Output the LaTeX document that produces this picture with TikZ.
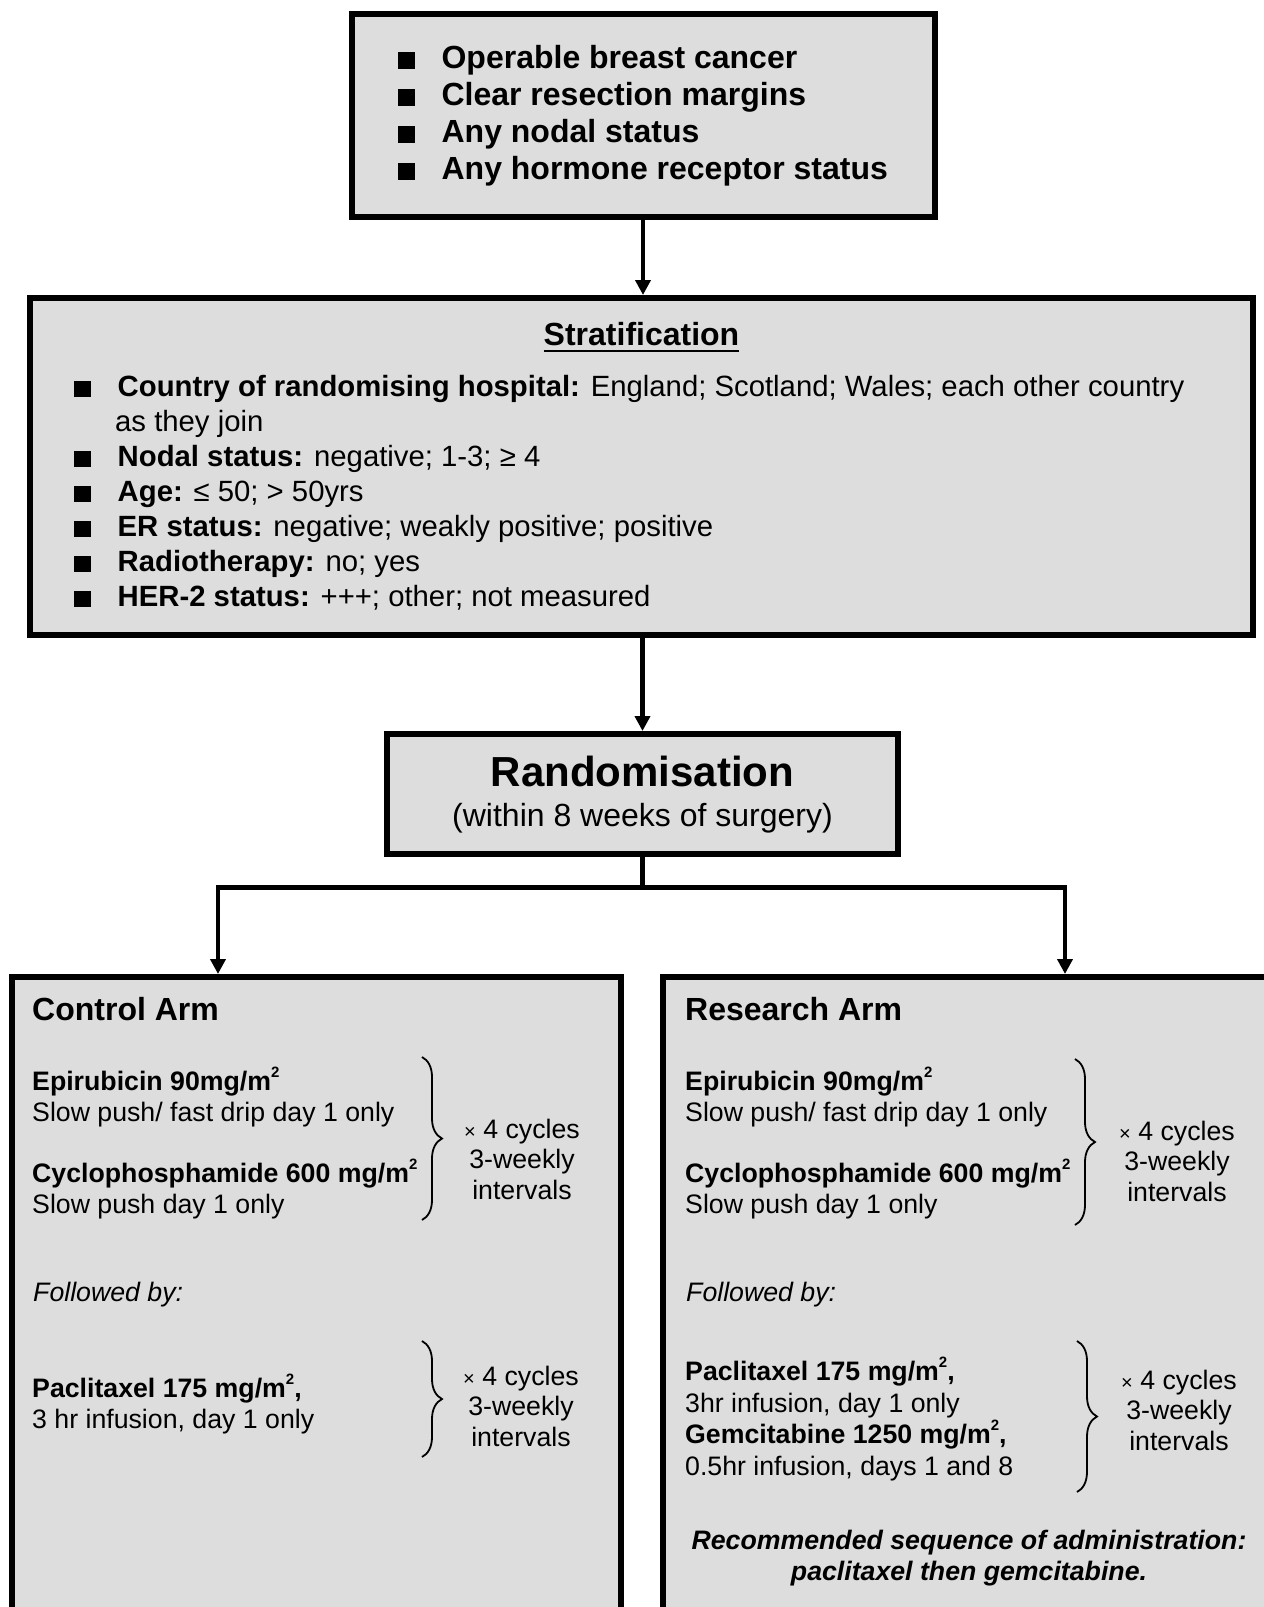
\documentclass[tikz,border=0pt]{standalone}
\usepackage{fontspec}
\setmainfont{Liberation Sans}
\usepackage{tikz}
\usetikzlibrary{arrows.meta,decorations.pathreplacing}
\definecolor{boxgray}{RGB}{221,221,221}
\newcommand{\sqb}{\rule[-0.5pt]{16.5pt}{16.5pt}\hspace{27pt}}
\newcommand{\msq}{\raisebox{0.48em}{\fontsize{15}{15}\selectfont 2}}
\newcommand{\tms}{{\fontsize{20}{20}\selectfont ×}}

\begin{document}
\begin{tikzpicture}[x=1pt, y=-1pt,
main box/.style={draw, line width=6pt, fill=boxgray, inner sep=0pt},
arm text/.style={inner sep=0pt, anchor=west, align=left, font=\fontsize{26.7}{31.5}\selectfont},
cyc text/.style={inner sep=0pt, align=center, font=\fontsize{26.7}{30.5}\selectfont},
arr/.style={-{Triangle[length=15pt, width=15pt]}, line width=4.5pt},
brc/.style={decorate, decoration={brace, amplitude=20pt}, line width=1.8pt}]
\useasboundingbox (0,0) rectangle (1264,1607);
\clip (0,0) rectangle (1264,1607);

% eligibility
\node[main box, minimum width=583pt, minimum height=203pt, align=left, font=\fontsize{32}{37}\selectfont\bfseries] (elig) at (643,115.5) {\sqb Operable breast cancer\\ \sqb Clear resection margins\\ \sqb Any nodal status\\ \sqb Any hormone receptor status};

% stratification
\node[main box, minimum width=1223pt, minimum height=337pt] (strat) at (641.5,466.5) {};
\node[inner sep=0pt, font=\fontsize{32}{37}\selectfont\bfseries] (strathead) at (641.5,334) {Stratification};
\draw[line width=2.6pt] ([yshift=-5pt]strathead.south west) -- ([yshift=-5pt]strathead.south east);
\node[inner sep=0pt, anchor=west, align=left, font=\fontsize{29.3}{35}\selectfont] (stratlist) at (74,493) {\sqb\textbf{Country of randomising hospital:} England; Scotland; Wales; each other country\\
\hspace*{41pt}as they join\\
\sqb\textbf{Nodal status:} negative; 1-3; ≥ 4\\
\sqb\textbf{Age:} ≤ 50; > 50yrs\\
\sqb\textbf{ER status:} negative; weakly positive; positive\\
\sqb\textbf{Radiotherapy:} no; yes\\
\sqb\textbf{HER-2 status:} +++; other; not measured};

% randomisation
\node[main box, minimum width=511pt, minimum height=120pt] (rand) at (642.5,794) {};
\node[inner sep=0pt, font=\fontsize{42}{48}\selectfont\bfseries] (randtitle) at (642.5,771) {Randomisation};
\node[inner sep=0pt, font=\fontsize{32}{37}\selectfont] (randsub) at (642.5,818) {(within 8 weeks of surgery)};

% arms
\node[main box, minimum width=609pt, minimum height=700pt, anchor=north] (ctrl) at (316.5,974) {};
\node[main box, minimum width=637pt, minimum height=700pt, anchor=north] (res) at (981.5,974) {};

\draw[arr] (elig.south) -- (elig.south |- strat.north);
\draw[arr] (strat.south -| rand.north) -- (rand.north);
\coordinate (split) at (642.5,887.5);
\coordinate (cleft) at (218,887.5);
\coordinate (cright) at (1065,887.5);
\draw[line width=4.5pt] (rand.south) -- (split);
\draw[arr] (split) -| (ctrl.north -| cleft);
\draw[arr] (split) -| (res.north -| cright);

% control arm
\node[inner sep=0pt, anchor=west, font=\fontsize{32}{37}\selectfont\bfseries] (ctitle) at (32,1009) {Control Arm};
\node[arm text] (cepi) at (32,1097) {\textbf{Epirubicin 90mg/m\msq}\\Slow push/ fast drip day 1 only};
\node[arm text] (ccyc) at (32,1189) {\textbf{Cyclophosphamide 600 mg/m\msq}\\Slow push day 1 only};
\draw[brc] (422,1057) -- (422,1220);
\node[cyc text] (ccyc1) at (522,1159) {\tms\ 4 cycles\\3-weekly\\intervals};
\node[arm text, font=\fontsize{26.7}{31.5}\selectfont\itshape] (cfol) at (33,1295) {Followed by:};
\node[arm text] (cpac) at (32,1404) {\textbf{Paclitaxel 175 mg/m\msq,}\\3 hr infusion, day 1 only};
\draw[brc] (422,1341) -- (422,1457);
\node[cyc text] (ccyc2) at (521,1406) {\tms\ 4 cycles\\3-weekly\\intervals};

% research arm
\node[inner sep=0pt, anchor=west, font=\fontsize{32}{37}\selectfont\bfseries] (rtitle) at (685,1009) {Research Arm};
\node[arm text] (repi) at (685,1097) {\textbf{Epirubicin 90mg/m\msq}\\Slow push/ fast drip day 1 only};
\node[arm text] (rcyc) at (685,1189) {\textbf{Cyclophosphamide 600 mg/m\msq}\\Slow push day 1 only};
\draw[brc] (1075,1059) -- (1075,1225);
\node[cyc text] (rcyc1) at (1177,1161) {\tms\ 4 cycles\\3-weekly\\intervals};
\node[arm text, font=\fontsize{26.7}{31.5}\selectfont\itshape] (rfol) at (686,1295) {Followed by:};
\node[arm text] (rpac) at (685,1419) {\textbf{Paclitaxel 175 mg/m\msq,}\\3hr infusion, day 1 only\\\textbf{Gemcitabine 1250 mg/m\msq,}\\0.5hr infusion, days 1 and 8};
\draw[brc] (1077,1341) -- (1077,1492);
\node[cyc text] (rcyc2) at (1179,1410) {\tms\ 4 cycles\\3-weekly\\intervals};
\node[cyc text, font=\fontsize{26.7}{30.5}\selectfont\bfseries\itshape] (rrec) at (969,1558) {Recommended sequence of administration:\\paclitaxel then gemcitabine.};
\end{tikzpicture}
\end{document}
